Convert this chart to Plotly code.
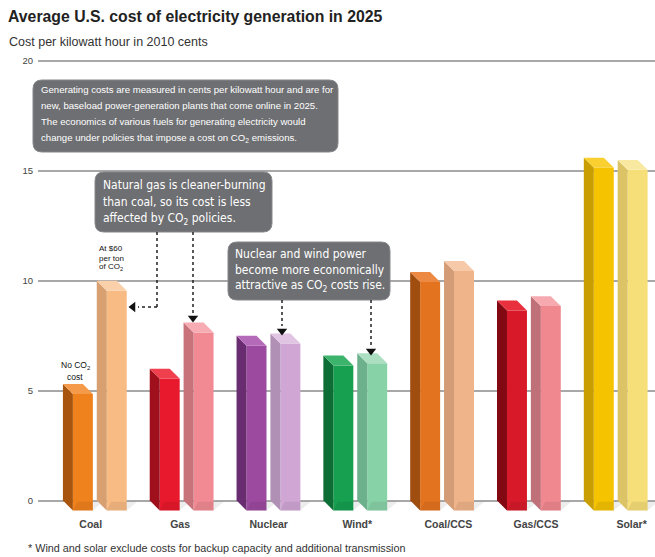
import plotly.graph_objects as go

# ---------------- data ----------------
categories = ["Coal", "Gas", "Nuclear", "Wind*", "Coal/CCS", "Gas/CCS", "Solar*"]
cost_no_co2 = [5.3, 6.0, 7.5, 6.6, 10.4, 9.1, 15.6]
cost_with_co2 = [10.0, 8.1, 7.6, 6.7, 10.9, 9.3, 15.5]
y_ticks = [0, 5, 10, 15, 20]

# ---------------- styles ----------------
dark_front = ['#f0821e', '#e8192c', '#9c4a9f', '#16a050', '#e3731f', '#d8192a', '#f5c300']
dark_side = ['#a8560f', '#a0101c', '#6a2c70', '#0c6e34', '#a04e10', '#820812', '#c89e00']
dark_top = ['#f59a48', '#f0404e', '#b46ab8', '#3cb46c', '#ec8a44', '#e8303e', '#f9d030']
light_front = ['#f8bb84', '#f28a94', '#d0a6d4', '#88d2a8', '#f0b48a', '#f08890', '#f6de78']
light_side = ['#d8a070', '#c8727a', '#b090b4', '#6cb08c', '#d49c76', '#c07078', '#dcc466']
light_top = ['#fad0aa', '#f6acb2', '#e0c4e2', '#acdec2', '#f6c9a8', '#f6aab0', '#f9e8a0']
# small horizontal nudges of the category labels (category units)
label_shift = [-0.05, -0.02, 0.0, 0.02, 0.07, 0.08, 0.18]

W, H = 655, 557
PL, PR = 38, 655          # plot area pixels (x)
PT, PB = 50, 516          # plot area pixels (y)
XR = [-0.657, 6.45]
YR = [-0.7, 20.5]

def xd(px):
    return XR[0] + (px - PL) / (PR - PL) * (XR[1] - XR[0])

def yd(py):
    return YR[1] - (py - PT) / (PB - PT) * (YR[1] - YR[0])

def xp(px):
    return (px - PL) / (PR - PL)

def yp(py):
    return (PB - py) / (PB - PT)

# 3D bar geometry (category units / value units)
DX = 0.115   # side depth
FW = 0.23    # front width
DY = 0.45    # vertical depth
OFFS = [-0.37, 0.02]  # back-left offsets of the two bars in a group

BOXFONT = "Liberation Sans Narrow, Arial Narrow, DejaVu Sans Condensed, sans-serif"
SANS = "Liberation Sans, Arial, sans-serif"

fig = go.Figure()

series = [
    (cost_no_co2, dark_front, dark_side, dark_top, OFFS[0]),
    (cost_with_co2, light_front, light_side, light_top, OFFS[1]),
]

for vals, cf, cs, ct, off in series:
    # soft base shadows
    for i, v in enumerate(vals):
        bl = i + off
        fig.add_trace(go.Scatter(
            x=[bl + DX, bl + DX + FW, bl + DX + FW + 0.12, bl + DX + 0.05, bl + DX],
            y=[-DY, -DY, -0.05, -0.05, -DY],
            fill="toself", fillcolor="rgba(0,0,0,0.07)", mode="lines",
            line=dict(width=0), showlegend=False, hoverinfo="skip",
        ))
    # front faces as real bars
    fig.add_trace(go.Bar(
        x=[i + off + DX + FW / 2 for i in range(len(categories))],
        y=vals,
        base=[-DY] * len(vals),
        width=FW,
        marker=dict(color=cf, line=dict(width=0)),
        showlegend=False, hoverinfo="skip",
    ))
    # side + top faces
    for i, v in enumerate(vals):
        bl = i + off
        fig.add_trace(go.Scatter(
            x=[bl, bl, bl + DX, bl + DX, bl],
            y=[0, v, v - DY, -DY, 0],
            fill="toself", fillcolor=cs[i], mode="lines",
            line=dict(width=0, color=cs[i]), showlegend=False, hoverinfo="skip",
        ))
        fig.add_trace(go.Scatter(
            x=[bl, bl + FW, bl + FW + DX, bl + DX, bl],
            y=[v, v, v - DY, v - DY, v],
            fill="toself", fillcolor=ct[i], mode="lines",
            line=dict(width=0, color=ct[i]), showlegend=False, hoverinfo="skip",
        ))

# arrow heads
fig.add_trace(go.Scatter(
    x=[xd(133)], y=[yd(307)], mode="markers",
    marker=dict(symbol="triangle-left", size=9, color="#111"),
    showlegend=False, hoverinfo="skip"))
fig.add_trace(go.Scatter(
    x=[xd(193), xd(282), xd(371)], y=[yd(318), yd(331), yd(351)], mode="markers",
    marker=dict(symbol="triangle-down", size=9, color="#111"),
    showlegend=False, hoverinfo="skip"))

shapes = []

def rounded_box(x0, y0, x1, y1, r=9):
    rx = r / (PR - PL)
    ry = r / (PB - PT)
    a, b, c, d = xp(x0), yp(y0), xp(x1), yp(y1)  # b top, d bottom
    path = (f"M {a+rx},{b} L {c-rx},{b} Q {c},{b} {c},{b-ry} "
            f"L {c},{d+ry} Q {c},{d} {c-rx},{d} L {a+rx},{d} "
            f"Q {a},{d} {a},{d+ry} L {a},{b-ry} Q {a},{b} {a+rx},{b} Z")
    return dict(type="path", xref="paper", yref="paper", path=path,
                fillcolor="#6e6f72", line=dict(color="#86878a", width=1), layer="above")

shapes.append(rounded_box(33, 80, 338, 152))
shapes.append(rounded_box(95, 172, 272, 232))
shapes.append(rounded_box(228, 242, 390, 300))

def dotted(x0, y0, x1, y1):
    return dict(type="line", xref="paper", yref="paper",
                x0=xp(x0), y0=yp(y0), x1=xp(x1), y1=yp(y1),
                line=dict(color="#222", width=1.5, dash="dot"), layer="above")

shapes += [
    dotted(157, 232, 157, 307), dotted(157, 307, 138, 307),
    dotted(193, 232, 193, 313),
    dotted(282, 300, 282, 326),
    dotted(371, 300, 371, 346),
]

annotations = []

def note(text, px, py, size=12, color="white", family=BOXFONT, align="left",
         xanchor="left", yanchor="middle"):
    annotations.append(dict(
        text=text, xref="paper", yref="paper",
        x=xp(px), y=yp(py), showarrow=False, xanchor=xanchor, yanchor=yanchor,
        align=align, font=dict(size=size, color=color, family=family)))

def lines(texts, px, py0, step, **kw):
    for k, t in enumerate(texts):
        note(t, px, py0 + k * step, **kw)

lines(["Generating costs are measured in cents per kilowatt hour and are for",
       "new, baseload power-generation plants that come online in 2025.",
       "The economics of various fuels for generating electricity would",
       "change under policies that impose a cost on CO<sub>2</sub> emissions."],
      39, 89, 16.3, size=9.6, family=SANS)
lines(["Natural gas is cleaner-burning", "than coal, so its cost is less",
       "affected by CO<sub>2</sub> policies."], 101, 185, 17, size=12)
lines(["Nuclear and wind power", "become more economically",
       "attractive as CO<sub>2</sub> costs rise."], 233, 254, 16, size=12)

lines(["No CO<sub>2</sub>", "cost"], 75, 365, 12, size=8.5, color="#111",
      family=SANS, align="center", xanchor="center")
lines(["At $60", "per ton", "of CO<sub>2</sub>"], 111, 249, 9, size=8, color="#111",
      family=SANS, align="center", xanchor="center")

note("<b>Average U.S. cost of electricity generation in 2025</b>", 6, 16, size=15.8,
     color="#222", family=SANS)
note("Cost per kilowatt hour in 2010 cents", 7, 42, size=12.5, color="#333", family=SANS)
note("* Wind and solar exclude costs for backup capacity and additional transmission",
     26, 548, size=10.8, color="#333", family=SANS)

fig.update_layout(
    width=W, height=H,
    margin=dict(l=PL, r=W - PR, t=PT, b=H - PB, pad=0),
    paper_bgcolor="white", plot_bgcolor="white",
    barmode="overlay",
    shapes=shapes, annotations=annotations,
    xaxis=dict(range=XR, tickmode="array",
               tickvals=[i + s for i, s in enumerate(label_shift)],
               ticktext=[f"<b>{c}</b>" for c in categories], showgrid=False,
               zeroline=False, showline=False,
               ticks="", tickfont=dict(size=10.5, color="#444", family=SANS),
               fixedrange=True),
    yaxis=dict(range=YR, tickmode="array", tickvals=y_ticks,
               ticktext=[str(t) for t in y_ticks], showgrid=True,
               gridcolor="#a8a8a8", gridwidth=1.5, zeroline=False, showline=False,
               ticks="", ticklabelstandoff=4,
               tickfont=dict(size=9.5, color="#444", family=SANS), fixedrange=True),
)

fig.write_html("out.html")
